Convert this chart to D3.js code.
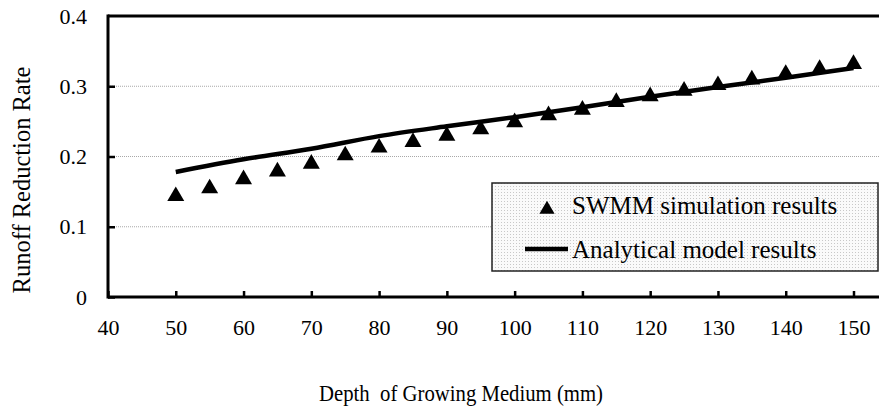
<!DOCTYPE html>
<html>
<head>
<meta charset="utf-8">
<script src="https://cdn.jsdelivr.net/npm/d3@7"></script>
<style>
  body { margin: 0; background: #fff; }
  text { font-family: "Liberation Serif", "Times New Roman", serif; fill: #000; }
</style>
</head>
<body>
<div id="chart"></div>
<script>
var width = 879;
var height = 416;

// data
var depths = [50, 55, 60, 65, 70, 75, 80, 85, 90, 95, 100, 105, 110, 115, 120, 125, 130, 135, 140, 145, 150];
var swmmRates = [0.147, 0.158, 0.171, 0.182, 0.193, 0.205, 0.216, 0.224, 0.233, 0.242, 0.252, 0.262, 0.270, 0.281, 0.289, 0.297, 0.305, 0.313, 0.321, 0.328, 0.335];
var modelDepths = [50, 60, 70, 80, 90, 100, 110, 120, 130, 140, 150];
var modelRates = [0.178, 0.196, 0.211, 0.229, 0.243, 0.256, 0.270, 0.285, 0.299, 0.312, 0.326];
var xTicks = [40, 50, 60, 70, 80, 90, 100, 110, 120, 130, 140, 150];
var yTicks = [0, 0.1, 0.2, 0.3, 0.4];
var legendLabels = ["SWMM simulation results", "Analytical model results"];

var plotLeft = 108, plotRight = 879, plotTop = 16, plotBottom = 297;

var svg = d3.select("#chart").append("svg")
      .attr("width", width)
      .attr("height", height);

var defs = svg.append("defs");
var pat = defs.append("pattern")
      .attr("id", "dots")
      .attr("width", 3)
      .attr("height", 3)
      .attr("patternUnits", "userSpaceOnUse");
pat.append("rect").attr("width", 3).attr("height", 3).attr("fill", "#fafafa");
pat.append("rect").attr("width", 1).attr("height", 1).attr("fill", "#c8c8c8");

var xScale = d3.scaleLinear()
      .domain([40, 150])
      .range([plotLeft, 853.5]);

var yScale = d3.scaleLinear()
      .domain([0, 0.4])
      .range([plotBottom, plotTop]);

// gridlines
svg.append("g").selectAll("line")
      .data(yTicks.filter(d => d > 0 && d < 0.4))
      .enter().append("line")
      .attr("x1", plotLeft).attr("x2", plotRight)
      .attr("y1", d => yScale(d)).attr("y2", d => yScale(d))
      .attr("stroke", "#a8a8a8")
      .attr("stroke-width", 1)
      .attr("stroke-dasharray", "1,1");

// top border
svg.append("line")
      .attr("x1", plotLeft).attr("x2", plotRight)
      .attr("y1", yScale(0.4)).attr("y2", yScale(0.4))
      .attr("stroke", "#000")
      .attr("stroke-width", 3);

// axes
var xAxis = d3.axisBottom(xScale)
      .tickValues(xTicks)
      .tickSizeInner(-6)
      .tickSizeOuter(0)
      .tickPadding(22)
      .tickFormat(d3.format("d"));

var yAxis = d3.axisLeft(yScale)
      .tickValues(yTicks)
      .tickSizeInner(-7)
      .tickSizeOuter(0)
      .tickPadding(21)
      .tickFormat(d => d === 0 ? "0" : d.toFixed(1));

var xAxisGroup = svg.append("g")
      .attr("transform", "translate(0," + plotBottom + ")")
      .call(xAxis);
var yAxisGroup = svg.append("g")
      .attr("transform", "translate(" + plotLeft + ",0)")
      .call(yAxis);

[xAxisGroup, yAxisGroup].forEach(function(g) {
      g.select(".domain").remove();
      g.selectAll(".tick line").attr("stroke", "#000").attr("stroke-width", 2.5);
      g.selectAll(".tick text")
            .style("font-family", "Liberation Serif")
            .style("font-size", "22px")
            .attr("fill", "#000");
});
yAxisGroup.selectAll(".tick").filter(d => d === 0.4).select("line").remove();

svg.append("line")
      .attr("x1", plotLeft).attr("x2", plotRight)
      .attr("y1", plotBottom).attr("y2", plotBottom)
      .attr("stroke", "#000").attr("stroke-width", 3);
svg.append("line")
      .attr("x1", plotLeft).attr("x2", plotLeft)
      .attr("y1", plotTop - 1.5).attr("y2", plotBottom + 1.5)
      .attr("stroke", "#000").attr("stroke-width", 3);

// analytical model line
var line = d3.line()
      .x((d, i) => xScale(modelDepths[i]))
      .y(d => yScale(d))
      .curve(d3.curveMonotoneX);

svg.append("path")
      .datum(modelRates)
      .attr("d", line)
      .attr("fill", "none")
      .attr("stroke", "#000")
      .attr("stroke-width", 4.5);

// SWMM triangles
var triSize = 125;
var tri = d3.symbol().type(d3.symbolTriangle).size(triSize);
var triH = Math.sqrt(triSize * 4 / Math.sqrt(3)) * Math.sqrt(3) / 2;
svg.append("g").selectAll("path")
      .data(swmmRates)
      .enter().append("path")
      .attr("d", tri)
      .attr("transform", (d, i) => "translate(" + xScale(depths[i]) + "," + (yScale(d) + triH / 6) + ")")
      .attr("fill", "#000");

// legend
var legend = svg.append("g");
legend.append("rect")
      .attr("x", 492).attr("y", 183)
      .attr("width", 386).attr("height", 88)
      .attr("fill", "url(#dots)")
      .attr("stroke", "#222")
      .attr("stroke-width", 1.5);
legend.append("path")
      .attr("d", d3.symbol().type(d3.symbolTriangle).size(100))
      .attr("transform", "translate(547," + (207 + triH / 6) + ")")
      .attr("fill", "#000");
legend.append("line")
      .attr("x1", 525).attr("x2", 568)
      .attr("y1", 249).attr("y2", 249)
      .attr("stroke", "#000").attr("stroke-width", 4.5);
legend.selectAll("text")
      .data(legendLabels)
      .enter().append("text")
      .attr("x", 572)
      .attr("y", (d, i) => 214 + i * 44)
      .style("font-size", "25px")
      .text(d => d);

// axis titles
svg.append("text")
      .attr("x", 319)
      .attr("y", 401)
      .attr("textLength", 284)
      .attr("lengthAdjust", "spacingAndGlyphs")
      .style("font-size", "23.5px")
      .style("white-space", "pre")
      .text("Depth  of Growing Medium (mm)");

svg.append("text")
      .attr("transform", "translate(30,180) rotate(-90)")
      .attr("text-anchor", "middle")
      .style("font-size", "24.5px")
      .text("Runoff Reduction Rate");
</script>
</body>
</html>
